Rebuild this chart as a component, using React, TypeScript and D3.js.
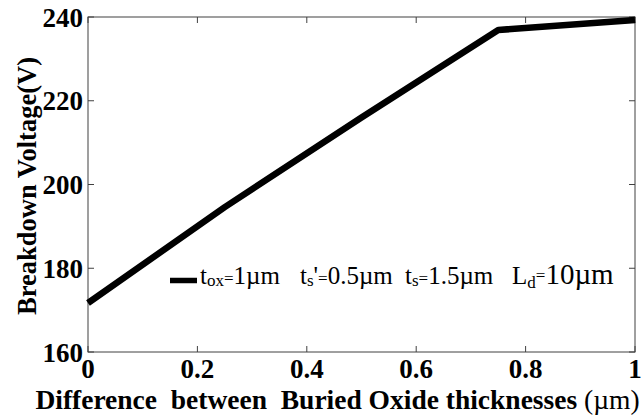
import React, { useEffect } from 'react';
import * as d3 from 'd3';

// breakdown voltage vs difference between buried oxide thicknesses
const diffs = [0, 0.25, 0.5, 0.75, 1];
const voltage = [171.7, 194.6, 216.0, 236.9, 239.3];
const xTicks = [0, 0.2, 0.4, 0.6, 0.8, 1];
const xTickLabels = ['0', '0.2', '0.4', '0.6', '0.8', '1'];
const yTicks = [160, 180, 200, 220, 240];

const W = 642, H = 418;
const margin = { top: 17, right: 7, bottom: 66, left: 88 };
const FONT = 'Liberation Serif';

export default function App() {
  useEffect(() => {
    document.body.style.margin = '0';
  }, []);

  const x = d3.scaleLinear().domain([0, 1]).range([margin.left, W - margin.right]);
  const y = d3.scaleLinear().domain([160, 240]).range([H - margin.bottom, margin.top]);

  const line = d3.line<number>()
    .x((d, i) => x(diffs[i]))
    .y(d => y(d))
    .curve(d3.curveLinear);

  const x0 = x.range()[0], x1 = x.range()[1];
  const y0 = y.range()[0], y1 = y.range()[1];
  const tick = 6;
  const axisCol = '#404040';

  return (
    <svg width={W} height={H} style={{ display: 'block' }}>
      {/* box */}
      <rect x={x0} y={y1} width={x1 - x0} height={y0 - y1} fill="none" stroke={axisCol} strokeWidth={1} />

      {/* x ticks, inward on bottom and top */}
      {xTicks.map((t, i) => (
        <g key={'xt' + i}>
          <line x1={x(t)} x2={x(t)} y1={y0} y2={y0 - tick} stroke={axisCol} />
          <line x1={x(t)} x2={x(t)} y1={y1} y2={y1 + tick} stroke={axisCol} />
          <text x={x(t)} y={378} textAnchor="middle" fontFamily={FONT} fontWeight="bold" fontSize={27}>
            {xTickLabels[i]}
          </text>
        </g>
      ))}

      {/* y ticks, inward on left and right */}
      {yTicks.map((t, i) => (
        <g key={'yt' + i}>
          <line x1={x0} x2={x0 + tick} y1={y(t)} y2={y(t)} stroke={axisCol} />
          <line x1={x1} x2={x1 - tick} y1={y(t)} y2={y(t)} stroke={axisCol} />
          <text x={83} y={y(t) + 9.5} textAnchor="end" fontFamily={FONT} fontWeight="bold" fontSize={27}>
            {t}
          </text>
        </g>
      ))}

      {/* data line */}
      <path d={line(voltage) || ''} fill="none" stroke="#000" strokeWidth={6.5}
        strokeLinejoin="round" strokeLinecap="butt" />

      {/* legend */}
      <line x1={170} x2={197} y1={280.5} y2={280.5} stroke="#000" strokeWidth={5.5} />
      <text y={284} fontFamily={FONT} fontSize={25}>
        <tspan x={200}>t</tspan>
        <tspan fontSize={17} dy={2}>ox</tspan>
        <tspan fontSize={17} dy={-2}>=</tspan>
        <tspan>1µm</tspan>
        <tspan x={300}>t</tspan>
        <tspan fontSize={17} dy={2}>s</tspan>
        <tspan dy={-2}>'</tspan>
        <tspan fontSize={17}>=</tspan>
        <tspan>0.5µm</tspan>
        <tspan x={405}>t</tspan>
        <tspan fontSize={17} dy={2}>s</tspan>
        <tspan fontSize={17} dy={-2}>=</tspan>
        <tspan>1.5µm</tspan>
        <tspan x={512}>L</tspan>
        <tspan fontSize={17} dy={4}>d</tspan>
        <tspan fontSize={17} dy={-7}>=</tspan>
        <tspan dy={3} fontSize={29}>10µm</tspan>
      </text>

      {/* axis labels */}
      <text x={(38 + 637) / 2} y={409} textAnchor="middle" fontFamily={FONT} fontWeight="bold"
        fontSize={27.5} style={{ whiteSpace: 'pre' }}>
        {'Difference  between  Buried Oxide thicknesses '}
        <tspan fontWeight="normal">(µm)</tspan>
      </text>
      <text transform={`translate(36,${(52 + 320) / 2}) rotate(-90)`} textAnchor="middle"
        fontFamily={FONT} fontWeight="bold" fontSize={26.5}>
        Breakdown Voltage(V)
      </text>
    </svg>
  );
}
